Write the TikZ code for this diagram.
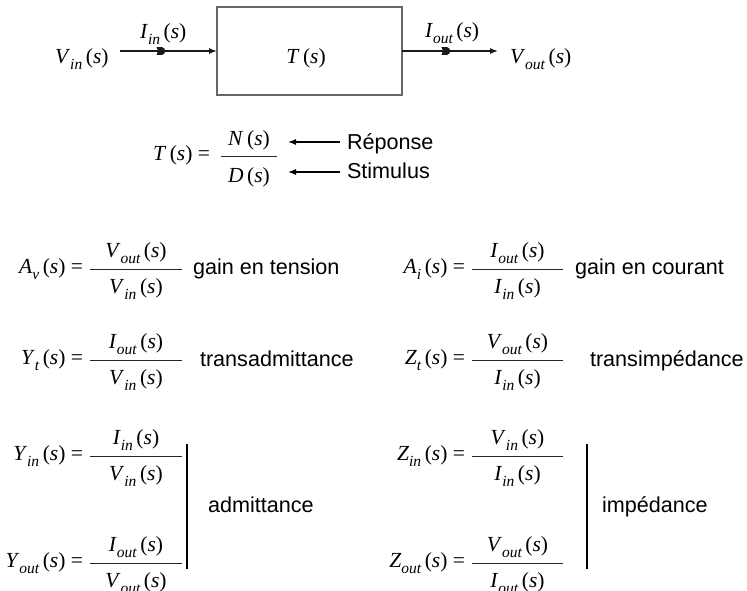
\documentclass[tikz,border=0pt]{standalone}
\usepackage{fontspec}
\setmainfont{Liberation Serif}
\newfontfamily\arial{Liberation Sans}
\usetikzlibrary{arrows.meta}
\newcommand{\sbs}[1]{\raisebox{-0.28em}{\fontsize{15.5}{15.5}\selectfont\itshape #1}}
\newcommand{\vs}[2]{\textit{#1}\sbs{#2}\,(\textit{s})}
\newcommand{\vn}[1]{\textit{#1}\,(\textit{s})}
\newcommand{\fracrow}[7]{%
  \coordinate (#1a) at (#2,#4);
  \coordinate (#1b) at (#3,#4);
  \draw[fbar] (#1a) -- (#1b);
  \node[lhs] (#1l) at ({#2-7},{#4+4}) {#5\ =};
  \node[num] (#1n) at ({(#2+#3)/2},{#4-12}) {#6};
  \node[num] (#1d) at ({(#2+#3)/2},{#4+24}) {#7};
}
\begin{document}
\begin{tikzpicture}[x=1pt,y=-1pt,
  every node/.style={inner sep=0pt, outer sep=0pt, font=\fontsize{21.5}{25}\selectfont},
  lbl/.style={anchor=base west, font=\arial\fontsize{21.6}{25}\selectfont},
  lhs/.style={anchor=base east},
  num/.style={anchor=base},
  fbar/.style={line width=1pt, black!85},
  conn/.style={line width=1.3pt, black!90},
  tip/.style={-{Latex[length=8pt,width=6pt]}},
  midmark/.pic={\fill[black!90] (-4.5,-3.8) -- (-3,0) -- (-4.5,3.8) -- (1.2,3.8) .. controls (5,3.8) and (5,-3.8) .. (1.2,-3.8) -- cycle;}]
\path[use as bounding box] (0,0) rectangle (747,590);
\clip (0,0) rectangle (747,590);
% top block diagram
\node[draw=black!60, line width=1.5pt, minimum width=185pt, minimum height=88pt] (box) at (309.5,51) {};
\node[anchor=base] (ts) at (306,63) {\vn{T}};
\node[anchor=base west] (vin) at (55,63) {\vs{V}{in}};
\node[anchor=base west] (iin) at (140,38) {\vs{I}{in}};
\node[anchor=base west] (iout) at (425,37) {\vs{I}{out}};
\node[anchor=base west] (vout) at (510,63) {\vs{V}{out}};
\coordinate (ina) at (120,51);
\coordinate (outb) at (498,51);
\draw[conn,tip] (ina) -- (box.west);
\draw[conn,tip] (box.east) -- (outb);
\pic at (161,51) {midmark};
\pic at (446,51) {midmark};
% T(s) = N/D
\coordinate (ta) at (221,156);
\coordinate (tb) at (277,156);
\draw[fbar] (ta) -- (tb);
\node[lhs] (tl) at (210,160) {\vn{T}\ =};
\node[num] (tn) at (249,145) {\vn{N}};
\node[num] (td) at (249,182) {\vn{D}};
\node[lbl] (rep) at (347,149) {Réponse};
\node[lbl] (sti) at (347,178) {Stimulus};
\coordinate (r1) at (340,142);
\coordinate (r2) at (288,142);
\coordinate (s1) at (340,172);
\coordinate (s2) at (288,172);
\draw[line width=1.1pt,tip] (r1) -- (r2);
\draw[line width=1.1pt,tip] (s1) -- (s2);
% formulas
\fracrow{av}{90}{182}{269}{\vs{A}{v}}{\vs{V}{out}}{\vs{V}{in}}
\fracrow{ai}{472}{563}{269}{\vs{A}{i}}{\vs{I}{out}}{\vs{I}{in}}
\fracrow{yt}{90}{182}{360}{\vs{Y}{t}}{\vs{I}{out}}{\vs{V}{in}}
\fracrow{zt}{472}{563}{360}{\vs{Z}{t}}{\vs{V}{out}}{\vs{I}{in}}
\fracrow{yi}{90}{182}{456}{\vs{Y}{in}}{\vs{I}{in}}{\vs{V}{in}}
\fracrow{zi}{472}{563}{456}{\vs{Z}{in}}{\vs{V}{in}}{\vs{I}{in}}
\fracrow{yo}{90}{182}{563}{\vs{Y}{out}}{\vs{I}{out}}{\vs{V}{out}}
\fracrow{zo}{472}{563}{563}{\vs{Z}{out}}{\vs{V}{out}}{\vs{I}{out}}
\node[lbl] at (193,274) {gain en tension};
\node[lbl] at (575,274) {gain en courant};
\node[lbl] at (200,366) {transadmittance};
\node[lbl] at (590,366) {transimpédance};
\node[lbl] at (208,512) {admittance};
\node[lbl] at (602,512) {impédance};
\draw[line width=2.2pt] (187,444) -- (187,569);
\draw[line width=1.1pt] (587,444) -- (587,569);
\end{tikzpicture}
\end{document}
